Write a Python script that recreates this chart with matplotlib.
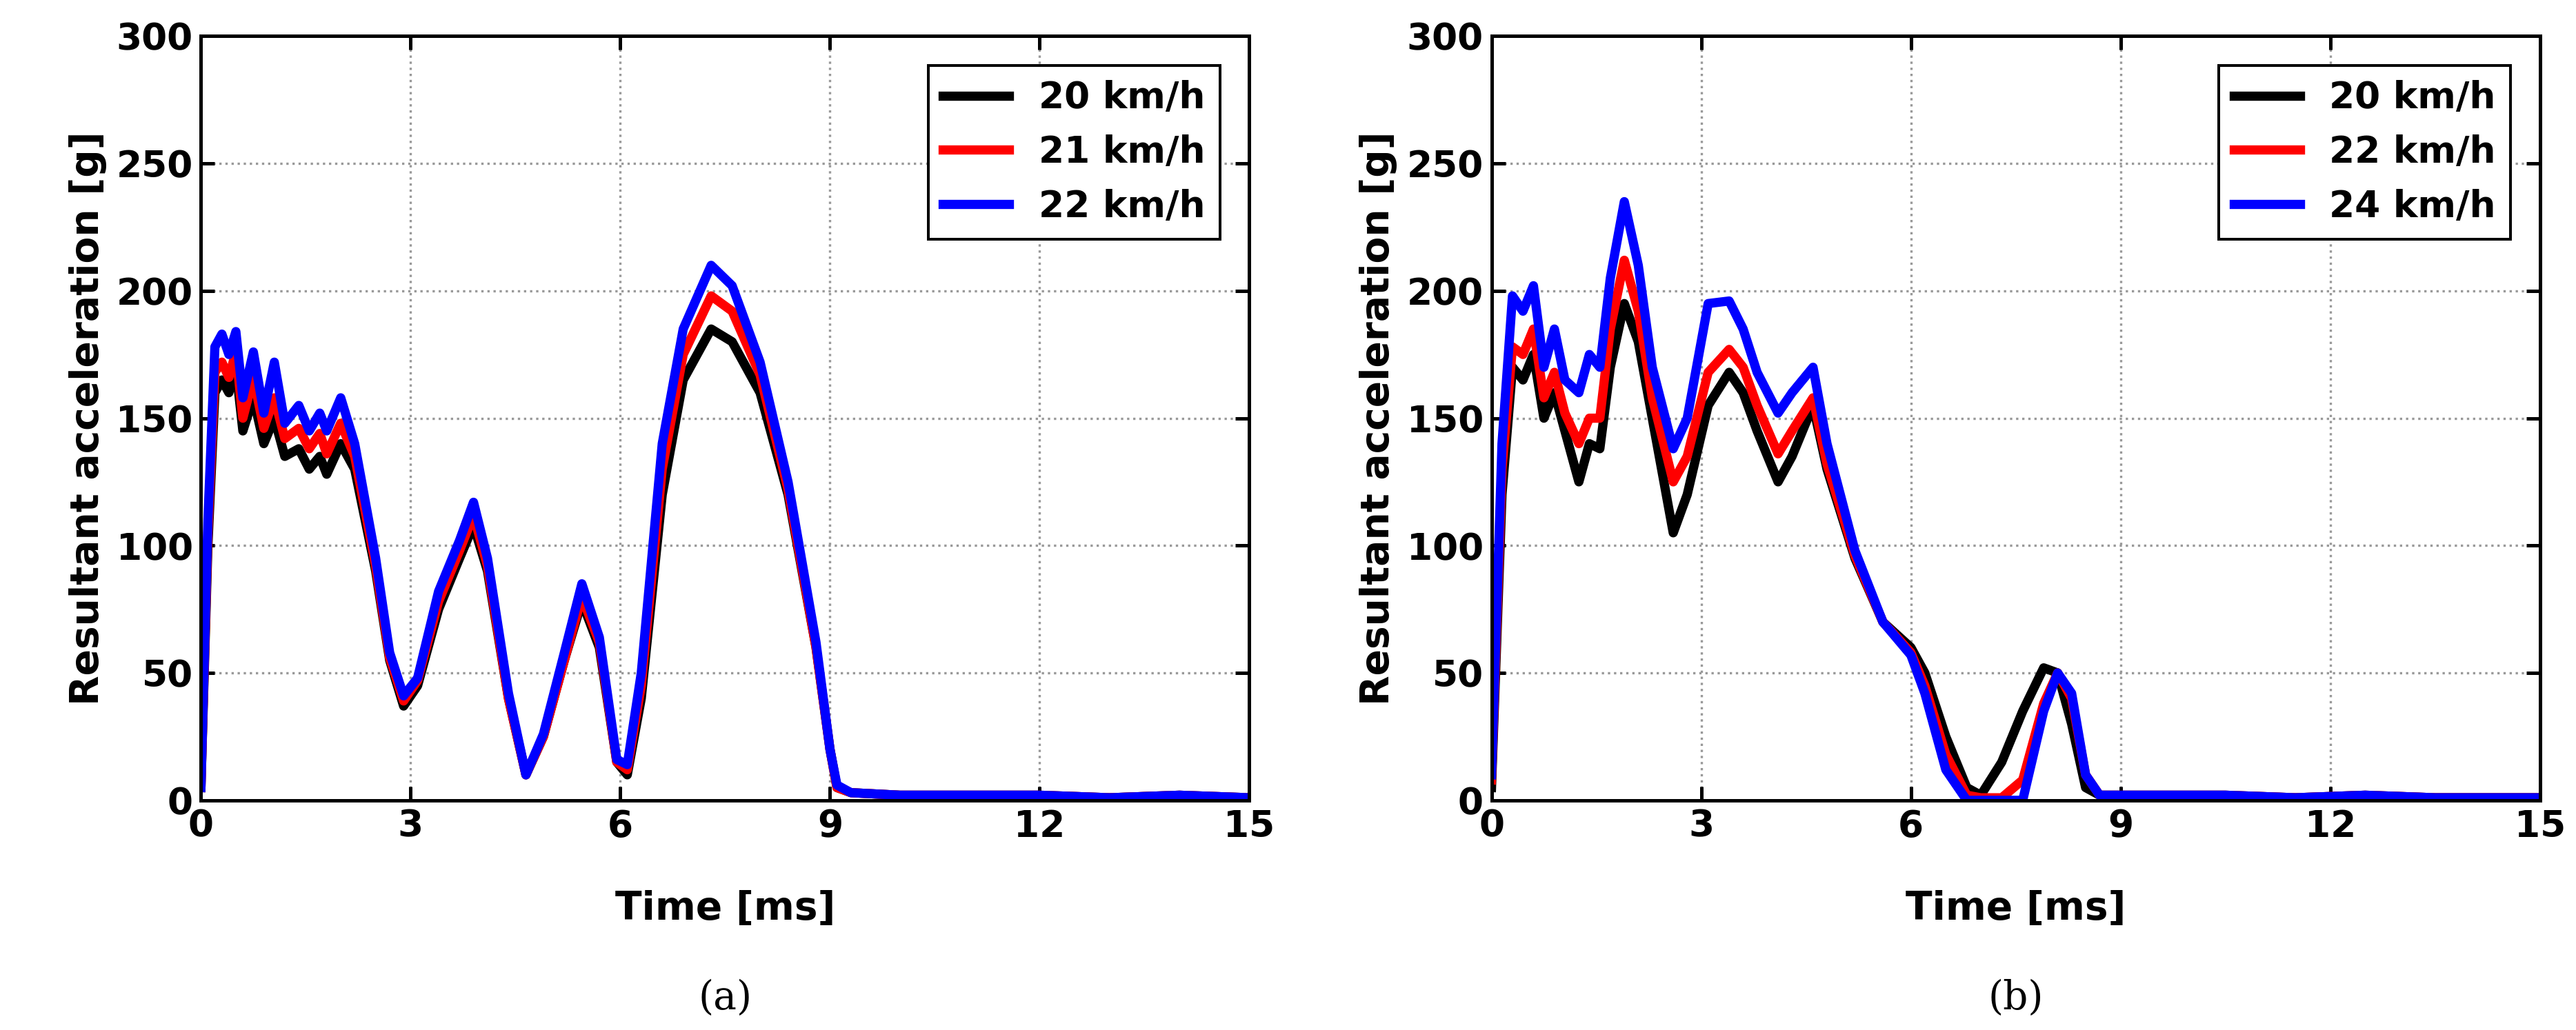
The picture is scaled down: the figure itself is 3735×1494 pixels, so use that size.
import matplotlib
matplotlib.use("Agg")
import matplotlib.pyplot as plt

# Panel (a)
t_a20 = [0, 0.1, 0.2, 0.3, 0.4, 0.5, 0.6, 0.75, 0.9, 1.05, 1.2, 1.4, 1.55, 1.7, 1.8, 2.0, 2.2, 2.5, 2.7, 2.9,
         3.1, 3.4, 3.7, 3.9, 4.1, 4.4, 4.65, 4.9, 5.2, 5.45, 5.7, 5.95, 6.1, 6.3, 6.6, 6.9, 7.3, 7.6, 8.0, 8.4,
         8.8, 9.0, 9.1, 9.3, 10, 11, 12, 13, 14, 15]
a20 = [5, 100, 160, 165, 160, 170, 145, 158, 140, 150, 135, 138, 130, 135, 128, 140, 130, 90, 55, 37,
       45, 75, 95, 108, 90, 40, 10, 25, 55, 78, 60, 15, 10, 40, 120, 165, 185, 180, 160, 120,
       60, 20, 5, 3, 2, 2, 2, 1, 2, 1]
a21 = [5, 105, 168, 172, 166, 176, 150, 166, 146, 158, 142, 146, 138, 144, 136, 148, 135, 92, 56, 39,
       47, 78, 98, 112, 92, 40, 10, 25, 55, 80, 62, 15, 12, 45, 130, 175, 198, 192, 167, 122,
       60, 20, 5, 3, 2, 2, 2, 1, 2, 1]
a22 = [5, 110, 178, 183, 175, 184, 158, 176, 152, 172, 148, 155, 145, 152, 145, 158, 140, 95, 58, 41,
       48, 82, 102, 117, 95, 42, 10, 26, 58, 85, 64, 16, 14, 50, 140, 185, 210, 202, 172, 125,
       62, 20, 6, 3, 2, 2, 2, 1, 2, 1]

# Panel (b)
t_b = [0, 0.15, 0.3, 0.45, 0.6, 0.75, 0.9, 1.05, 1.25, 1.4, 1.55, 1.7, 1.9, 2.1, 2.3, 2.6, 2.8, 3.1, 3.4,
       3.6, 3.8, 4.1, 4.3, 4.6, 4.8, 5.2, 5.6, 6.0, 6.2, 6.5, 6.8, 7.0, 7.3, 7.6, 7.9, 8.1, 8.3, 8.5, 8.7,
       9.5, 10.5, 11.5, 12.5, 13.5, 15]
b20 = [5, 120, 170, 165, 175, 150, 160, 145, 125, 140, 138, 170, 195, 180, 150, 105, 120, 155, 168,
       160, 145, 125, 135, 155, 130, 95, 70, 60, 50, 25, 5, 2, 15, 35, 52, 50, 30, 5, 2,
       2, 2, 1, 2, 1, 1]
b22 = [8, 130, 178, 175, 185, 158, 168, 152, 140, 150, 150, 185, 212, 192, 158, 125, 135, 168, 177,
       170, 155, 136, 145, 158, 132, 96, 70, 58, 45, 18, 2, 1, 1, 8, 38, 50, 40, 10, 2,
       2, 2, 1, 2, 1, 1]
b24 = [10, 140, 198, 192, 202, 170, 185, 165, 160, 175, 170, 205, 235, 210, 170, 138, 150, 195, 196,
       185, 168, 152, 160, 170, 140, 98, 70, 57, 42, 12, 0, 0, 0, 0, 35, 50, 42, 10, 2,
       2, 2, 1, 2, 1, 1]

colors = ["black", "#ff0000", "#0000ff"]
panels = [
    (t_a20, [a20, a21, a22], ["20 km/h", "21 km/h", "22 km/h"], "(a)", 0.078),
    (t_b, [b20, b22, b24], ["20 km/h", "22 km/h", "24 km/h"], "(b)", 0.579),
]

fig = plt.figure(figsize=(15.5625, 6.225), dpi=240)
for t, series, labels, tag, left in panels:
    ax = fig.add_axes([left, 0.223, 0.407, 0.742])
    for y, c, lab in zip(series, colors, labels):
        ax.plot(t, y, color=c, lw=4, label=lab, solid_joinstyle="round")
    ax.set_xlim(0, 15)
    ax.set_ylim(0, 300)
    ax.set_xticks(range(0, 16, 3))
    ax.set_yticks(range(0, 301, 50))
    ax.grid(True, ls=":", color="#999999", lw=1)
    ax.tick_params(direction="in", labelsize=16, width=1.5, length=6, top=True, right=True,
                   labeltop=False, labelright=False)
    for lbl in ax.get_xticklabels() + ax.get_yticklabels():
        lbl.set_fontweight("bold")
    for s in ax.spines.values():
        s.set_linewidth(1.5)
    ax.set_xlabel("Time [ms]", fontsize=17, fontweight="bold", labelpad=20)
    ax.set_ylabel("Resultant acceleration [g]", fontsize=17, fontweight="bold")
    leg = ax.legend(loc="upper right", prop={"weight": "bold", "size": 16},
                    fancybox=False, edgecolor="black", framealpha=1, handlelength=1.8,
                    borderaxespad=0.8)
    leg.get_frame().set_linewidth(1.2)
    fig.text(left + 0.2035, 0.02, tag, ha="center", fontsize=17, family="DejaVu Serif")

fig.savefig("out.png")
